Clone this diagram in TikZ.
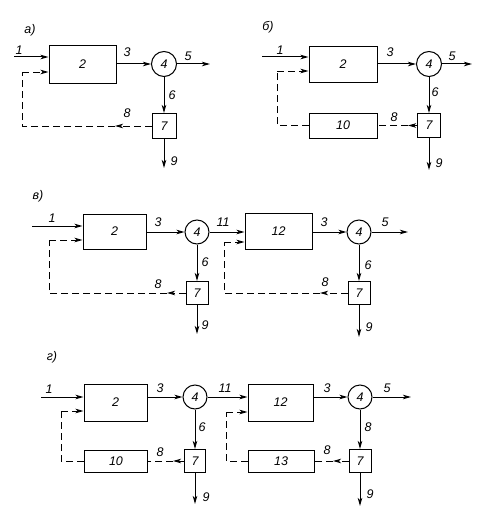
\documentclass[tikz,border=0pt]{standalone}
\usepackage{fontspec}
\setmainfont{Liberation Sans}
\usetikzlibrary{arrows.meta}
\begin{document}
\begin{tikzpicture}[x=1pt,y=-1pt,
  font=\fontsize{12.5}{14}\selectfont\itshape,
  blk/.style={draw,line width=1pt,inner sep=0pt},
  circ/.style={draw,circle,line width=1pt,inner sep=0pt,minimum size=25pt},
  arr/.style={line width=1pt,-{Stealth[length=8pt,width=4.5pt,inset=2pt]}},
  fb/.style={line width=0.9pt,dash pattern=on 7pt off 4pt},
  fba/.style={fb,-{Stealth[length=8pt,width=4.5pt,inset=2pt]}},
  lbl/.style={inner sep=0pt}]
\useasboundingbox (0,0) rectangle (490,519);

% ---------- panel a ----------
\node[lbl] (la) at (30,30) {а)};
\node[blk,minimum width=67pt,minimum height=37pt] (b2a) at (82.5,64.5) {2};
\node[circ] (c4a) at (164,64) {4};
\node[blk,minimum width=24pt,minimum height=25pt] (b7a) at (164,126) {7};
\coordinate (i1a) at (14,57);
\coordinate (fa1) at (22,72);
\coordinate (fa2) at (22,126);
\coordinate (fam) at (115,126);
\coordinate (o5a) at (210,64);
\coordinate (o9a) at (164,168);
\draw[arr] (i1a) -- (i1a -| b2a.west);
\draw[arr] (b2a.east |- c4a) -- (c4a.west);
\draw[arr] (c4a.east) -- (o5a);
\draw[arr] (c4a.south) -- (b7a.north);
\draw[arr] (b7a.south) -- (o9a);
\draw[fba] (b7a.west) -- (fam);
\draw[fb] (fam) -- (fa2) -- (fa1);
\draw[fba] (fa1) -- (fa1 -| b2a.west);
\node[lbl] (l1a) at (19,50) {1};
\node[lbl] (l3a) at (127,52) {3};
\node[lbl] (l5a) at (188,56) {5};
\node[lbl] (l6a) at (172,95) {6};
\node[lbl] (l8a) at (127,113) {8};
\node[lbl] (l9a) at (174,161) {9};

% ---------- panel b ----------
\node[lbl] (lb) at (268,27) {б)};
\node[blk,minimum width=68pt,minimum height=35pt] (b2b) at (343,64.5) {2};
\node[circ] (c4b) at (429,64) {4};
\node[blk,minimum width=23pt,minimum height=24pt] (b7b) at (429,125.5) {7};
\node[blk,minimum width=68pt,minimum height=25pt] (b10b) at (343,125.5) {10};
\coordinate (i1b) at (262,57);
\coordinate (fb1) at (277,71);
\coordinate (fb2) at (277,125.5);
\coordinate (fbm) at (408,125.5);
\coordinate (o5b) at (472,64);
\coordinate (o9b) at (429,170);
\draw[arr] (i1b) -- (i1b -| b2b.west);
\draw[arr] (b2b.east |- c4b) -- (c4b.west);
\draw[arr] (c4b.east) -- (o5b);
\draw[arr] (c4b.south) -- (b7b.north);
\draw[arr] (b7b.south) -- (o9b);
\draw[fba] (b7b.west) -- (fbm);
\draw[fb] (fbm) -- (b10b.east);
\draw[fb] (b10b.west) -- (fb2) -- (fb1);
\draw[fba] (fb1) -- (fb1 -| b2b.west);
\node[lbl] (l1b) at (280,50) {1};
\node[lbl] (l3b) at (390,52) {3};
\node[lbl] (l5b) at (452,56) {5};
\node[lbl] (l6b) at (435,92) {6};
\node[lbl] (l8b) at (394,117) {8};
\node[lbl] (l9b) at (439,163) {9};

% ---------- panel c ----------
\node[lbl] (lc) at (38,196) {в)};
\node[blk,minimum width=63pt,minimum height=35pt] (b2c) at (114.5,231.5) {2};
\node[circ,minimum size=24pt] (c4c) at (197,232) {4};
\node[blk,minimum width=22pt,minimum height=23pt] (b7c) at (197,293) {7};
\node[blk,minimum width=67pt,minimum height=36pt] (b12c) at (278.5,231.5) {12};
\node[circ,minimum size=24pt] (c4c2) at (359,232) {4};
\node[blk,minimum width=22pt,minimum height=23pt] (b7c2) at (359,293) {7};
\coordinate (i1c) at (32,226);
\coordinate (fc1) at (49,240);
\coordinate (fc2) at (49,293);
\coordinate (fcm) at (167,293);
\coordinate (gc1) at (224,242);
\coordinate (gc2) at (224,293);
\coordinate (gcm) at (320,293);
\coordinate (o9c) at (197,334);
\coordinate (o5c) at (408,232);
\coordinate (o9c2) at (359,337);
\draw[arr] (i1c) -- (i1c -| b2c.west);
\draw[arr] (b2c.east |- c4c) -- (c4c.west);
\draw[arr] (c4c.east) -- (c4c.east -| b12c.west);
\draw[arr] (c4c.south) -- (b7c.north);
\draw[arr] (b7c.south) -- (o9c);
\draw[fba] (b7c.west) -- (fcm);
\draw[fb] (fcm) -- (fc2) -- (fc1);
\draw[fba] (fc1) -- (fc1 -| b2c.west);
\draw[arr] (b12c.east |- c4c2) -- (c4c2.west);
\draw[arr] (c4c2.east) -- (o5c);
\draw[arr] (c4c2.south) -- (b7c2.north);
\draw[arr] (b7c2.south) -- (o9c2);
\draw[fba] (b7c2.west) -- (gcm);
\draw[fb] (gcm) -- (gc2) -- (gc1);
\draw[fba] (gc1) -- (gc1 -| b12c.west);
\node[lbl] (l1c) at (52,218) {1};
\node[lbl] (l3c) at (158,222) {3};
\node[lbl] (l11c) at (223,222) {11};
\node[lbl] (l6c) at (205,262) {6};
\node[lbl] (l8c) at (158,284) {8};
\node[lbl] (l9c) at (205,325) {9};
\node[lbl] (l3c2) at (324,222) {3};
\node[lbl] (l5c2) at (385,222) {5};
\node[lbl] (l6c2) at (368,265) {6};
\node[lbl] (l8c2) at (325,282) {8};
\node[lbl] (l9c2) at (369,327) {9};

% ---------- panel d ----------
\node[lbl] (ld) at (52,357) {г)};
\node[blk,minimum width=63pt,minimum height=37pt] (b2d) at (115.5,402.5) {2};
\node[circ,minimum size=24pt] (c4d) at (195,397) {4};
\node[blk,minimum width=63pt,minimum height=22pt] (b10d) at (116,461) {10};
\node[blk,minimum width=21pt,minimum height=23pt] (b7d) at (195,461) {7};
\node[blk,minimum width=65pt,minimum height=37pt] (b12d) at (280.5,402.5) {12};
\node[circ,minimum size=24pt] (c4d2) at (360,397) {4};
\node[blk,minimum width=66pt,minimum height=22pt] (b13d) at (281,461) {13};
\node[blk,minimum width=22pt,minimum height=23pt] (b7d2) at (360,461) {7};
\coordinate (i1d) at (41,397);
\coordinate (fd1) at (61,411);
\coordinate (fd2) at (61,461);
\coordinate (fdm) at (173,461);
\coordinate (gd1) at (226,412);
\coordinate (gd2) at (226,461);
\coordinate (gdm) at (333,461);
\coordinate (o9d) at (195,504);
\coordinate (o5d) at (411,397);
\coordinate (o9d2) at (360,506);
\draw[arr] (i1d) -- (i1d -| b2d.west);
\draw[arr] (b2d.east |- c4d) -- (c4d.west);
\draw[arr] (c4d.east) -- (c4d.east -| b12d.west);
\draw[arr] (c4d.south) -- (b7d.north);
\draw[arr] (b7d.south) -- (o9d);
\draw[fba] (b7d.west) -- (fdm);
\draw[fb] (fdm) -- (b10d.east);
\draw[fb] (b10d.west) -- (fd2) -- (fd1);
\draw[fba] (fd1) -- (fd1 -| b2d.west);
\draw[arr] (b12d.east |- c4d2) -- (c4d2.west);
\draw[arr] (c4d2.east) -- (o5d);
\draw[arr] (c4d2.south) -- (b7d2.north);
\draw[arr] (b7d2.south) -- (o9d2);
\draw[fba] (b7d2.west) -- (gdm);
\draw[fb] (gdm) -- (b13d.east);
\draw[fb] (b13d.west) -- (gd2) -- (gd1);
\draw[fba] (gd1) -- (gd1 -| b12d.west);
\node[lbl] (l1d) at (49,389) {1};
\node[lbl] (l3d) at (160,388) {3};
\node[lbl] (l11d) at (225,388) {11};
\node[lbl] (l6d) at (202,427) {6};
\node[lbl] (l8d) at (160,452) {8};
\node[lbl] (l9d) at (206,497) {9};
\node[lbl] (l3d2) at (327,388) {3};
\node[lbl] (l5d2) at (387,388) {5};
\node[lbl] (l6d2) at (368,427) {8};
\node[lbl] (l8d2) at (327,450) {8};
\node[lbl] (l9d2) at (370,494) {9};
\end{tikzpicture}
\end{document}
